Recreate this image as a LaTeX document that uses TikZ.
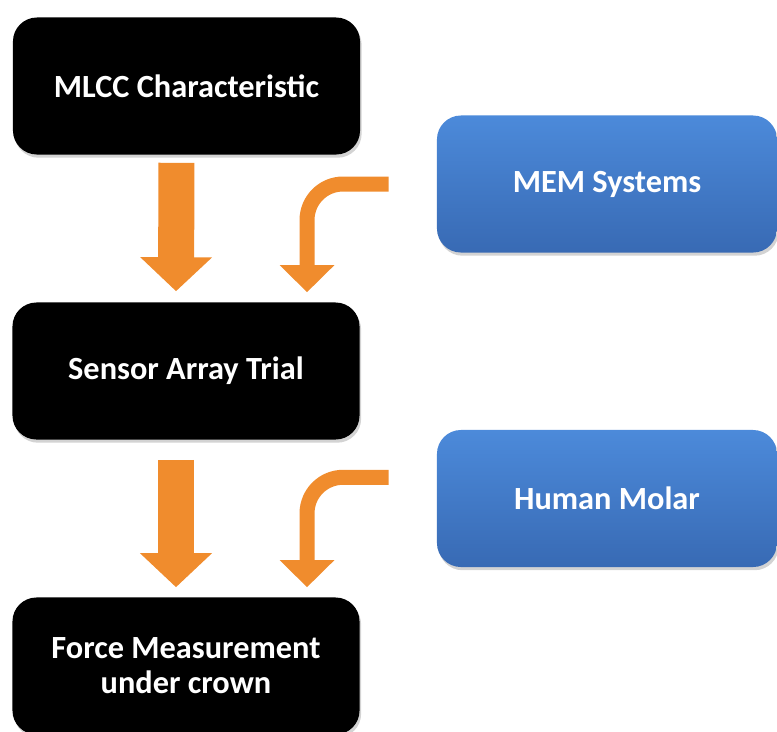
\documentclass[tikz,border=0pt]{standalone}
\usepackage{fontspec}
\setmainfont{Carlito}
\usepackage{tikz}
\usetikzlibrary{arrows.meta,positioning,calc,shadows}
\definecolor{arrowor}{RGB}{240,140,45}
\definecolor{bluetop}{RGB}{76,138,218}
\definecolor{bluebot}{RGB}{56,106,180}

\begin{document}
\begin{tikzpicture}[x=0.025cm, y=-0.025cm,
    box/.style={rounded corners=0.6cm, minimum width=8.675cm, minimum height=3.425cm, align=center, font=\fontsize{23}{25}\selectfont\bfseries, text=white, fill=black, drop shadow={opacity=0.35, shadow xshift=0.04cm, shadow yshift=-0.08cm}},
    side/.style={box, minimum width=8.5cm, fill=none, top color=bluetop, bottom color=bluebot},
    flow/.style={draw=arrowor, line width=0.9cm, -{Triangle[width=1.75cm, length=0.85cm]}, arrowor},
    feed/.style={draw=arrowor, line width=0.375cm, rounded corners=0.9cm, -{Triangle[width=1.325cm, length=0.675cm]}, arrowor}
]
\useasboundingbox (0,0) rectangle (777,731);
\node[box] (mlcc) at (186.5,86) {MLCC Characteristic};
\node[box] (sensor) at (186,371) {Sensor Array Trial};
\node[box] (force) at (186,666) {Force Measurement\\under crown};
\node[side] (mem) at (607,184) {MEM Systems};
\node[side] (molar) at (607,498.5) {Human Molar};

\draw[flow, shorten <=0.2cm, shorten >=0.275cm] ([xshift=-0.25cm]mlcc.south) -- ([xshift=-0.25cm]sensor.north);
\draw[flow, shorten <=0.5cm, shorten >=0.25cm] ([xshift=-0.25cm]sensor.south) -- ([xshift=-0.25cm]force.north);
\draw[feed, shorten >=0.25cm] ([xshift=-1.2cm]mem.west) -| ([xshift=3.025cm]sensor.north);
\draw[feed, shorten >=0.25cm] ([xshift=-1.2cm, yshift=0.53cm]molar.west) -| ([xshift=3.025cm]force.north);
\end{tikzpicture}
\end{document}
